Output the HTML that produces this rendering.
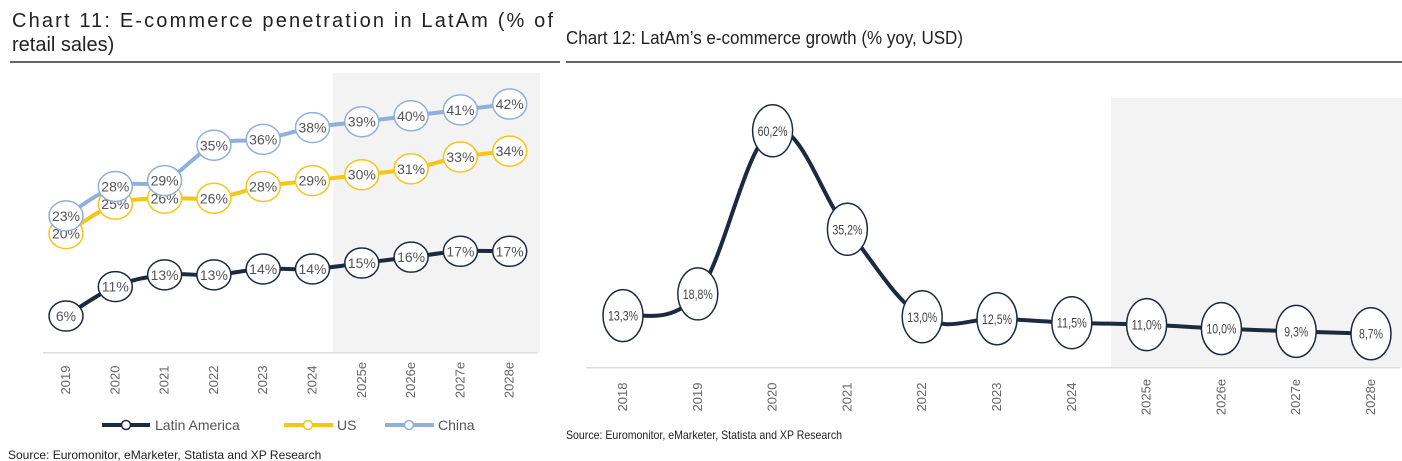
<!DOCTYPE html>
<html><head><meta charset="utf-8">
<style>
html,body{margin:0;padding:0;background:#fff;}
body{width:1402px;height:461px;overflow:hidden;position:relative;font-family:"Liberation Sans",sans-serif;}
svg{position:absolute;left:0;top:0;}
</style></head>
<body>
<svg width="1402" height="461">
  <g>
    <text x="12" y="27" font-size="20" fill="#222" textLength="541" lengthAdjust="spacing">Chart 11: E-commerce penetration in LatAm (% of</text>
    <text x="12" y="51" font-size="20" fill="#222">retail sales)</text>
    <rect x="10" y="61" width="550" height="2" fill="#666"/>
    <rect x="333" y="73" width="207" height="280" fill="#f3f3f3"/>
    <rect x="43" y="352" width="494" height="1.5" fill="#ddd"/>
    <g id="left-plot"></g>
    <g>
      <g>
        <line x1="102" y1="425" x2="150" y2="425" stroke="#1c2a3f" stroke-width="4"/>
        <circle cx="126" cy="425" r="4.5" fill="#fff" stroke="#1c2a3f" stroke-width="1.5"/>
        <text x="155" y="430" font-size="14" fill="#555">Latin America</text>
      </g>
      <g>
        <line x1="284" y1="425" x2="333" y2="425" stroke="#f5c518" stroke-width="4"/>
        <circle cx="308" cy="425" r="4.5" fill="#fff" stroke="#f5c518" stroke-width="1.5"/>
        <text x="337" y="430" font-size="14" fill="#555">US</text>
      </g>
      <g>
        <line x1="385" y1="425" x2="434" y2="425" stroke="#8fb0dc" stroke-width="4"/>
        <circle cx="409" cy="425" r="4.5" fill="#fff" stroke="#8fb0dc" stroke-width="1.5"/>
        <text x="438" y="430" font-size="14" fill="#555">China</text>
      </g>
    </g>
    <text x="8" y="459" font-size="12" fill="#222">Source: Euromonitor, eMarketer, Statista and XP Research</text>
  </g>
  <g>
    <text x="566" y="44" font-size="18" fill="#222" textLength="397" lengthAdjust="spacingAndGlyphs">Chart 12: LatAm’s e-commerce growth (% yoy, USD)</text>
    <rect x="566" y="61" width="836" height="2" fill="#666"/>
    <rect x="1111" y="98" width="291" height="270" fill="#f3f3f3"/>
    <rect x="586" y="367" width="814" height="1.5" fill="#ddd"/>
    <g id="right-plot"></g>
    <text x="566" y="439" font-size="12" fill="#222" textLength="276" lengthAdjust="spacingAndGlyphs">Source: Euromonitor, eMarketer, Statista and XP Research</text>
  </g>
</svg>
<script>
const leftYears = ["2019","2020","2021","2022","2023","2024","2025e","2026e","2027e","2028e"];
const latamValues = [6,11,13,13,14,14,15,16,17,17];
const usValues = [20,25,26,26,28,29,30,31,33,34];
const chinaValues = [23,28,29,35,36,38,39,40,41,42];
const rightYears = ["2018","2019","2020","2021","2022","2023","2024","2025e","2026e","2027e","2028e"];
const growthValues = [13.3,18.8,60.2,35.2,13.0,12.5,11.5,11.0,10.0,9.3,8.7];

const NS = "http://www.w3.org/2000/svg";
function mk(tag, attrs, parent){const e=document.createElementNS(NS,tag);for(const k in attrs)e.setAttribute(k,attrs[k]);parent.appendChild(e);return e;}
function smooth(pts){
  let d="M"+pts[0][0]+","+pts[0][1];
  for(let i=0;i<pts.length-1;i++){
    const p0=pts[i-1]||pts[i],p1=pts[i],p2=pts[i+1],p3=pts[i+2]||p2,t=0.18;
    d+=" C"+(p1[0]+(p2[0]-p0[0])*t)+","+(p1[1]+(p2[1]-p0[1])*t)+" "+(p2[0]-(p3[0]-p1[0])*t)+","+(p2[1]-(p3[1]-p1[1])*t)+" "+p2[0]+","+p2[1];
  }
  return d;
}
// left chart
const lx = i => 66 + i*49.3;
const ly = v => 351.4 - v*5.89;
const lp = document.getElementById("left-plot");
leftYears.forEach((y,i)=>{
  const t=mk("text",{x:lx(i)+4,y:380,"font-size":13,fill:"#666","text-anchor":"middle",transform:"rotate(-90 "+(lx(i)+4)+" 380)"},lp);
  
  
  t.textContent=y;
});
[["latam",latamValues,"#1c2a3f"],["us",usValues,"#f5c518"],["china",chinaValues,"#8fb0dc"]].forEach(([nm,vals,col])=>{
  const g=mk("g",{},lp);
  
  
  const pts=vals.map((v,i)=>[lx(i),ly(v)]);
  mk("path",{d:smooth(pts),fill:"none",stroke:col,"stroke-width":4},g);
  vals.forEach((v,i)=>{
    const m=mk("g",{},g);
    
    
    mk("ellipse",{cx:lx(i),cy:ly(v),rx:17,ry:15,fill:"#fff",stroke:col,"stroke-width":1.5},m);
    const t=mk("text",{x:lx(i),y:ly(v)+5,"font-size":14,fill:"#555","text-anchor":"middle"},m);
    t.textContent=v+"%";
  });
});
// right chart
const rx = i => 623 + i*74.8;
const ry = v => 368 - v*3.94;
const rp = document.getElementById("right-plot");
rightYears.forEach((y,i)=>{
  const t=mk("text",{x:rx(i)+4,y:397,"font-size":13,fill:"#666","text-anchor":"middle",transform:"rotate(-90 "+(rx(i)+4)+" 397)"},rp);
  
  
  t.textContent=y;
});
const rpts=growthValues.map((v,i)=>[rx(i),ry(v)]);
const rl=mk("path",{d:smooth(rpts),fill:"none",stroke:"#1c2a3f","stroke-width":4},rp);


growthValues.forEach((v,i)=>{
  const m=mk("g",{},rp);
  
  
  mk("ellipse",{cx:rx(i),cy:ry(v),rx:20,ry:26,fill:"#fff",stroke:"#1c2a3f","stroke-width":1.5},m);
  const lbl=v.toFixed(1).replace(".",",")+"%";
  const t=mk("text",{x:rx(i),y:ry(v)+5,"font-size":14,fill:"#444","text-anchor":"middle",textLength:lbl.length*6,lengthAdjust:"spacingAndGlyphs"},m);
  t.textContent=lbl;
});
</script>
</body></html>
